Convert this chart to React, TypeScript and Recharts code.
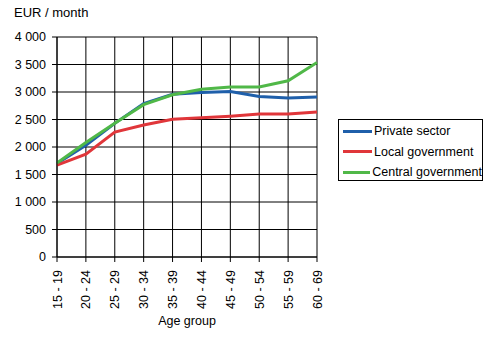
import React from "react";
import { LineChart, Line, XAxis, YAxis, CartesianGrid } from "recharts";

const ageGroups = ["15 - 19", "20 - 24", "25 - 29", "30 - 34", "35 - 39", "40 - 44", "45 - 49", "50 - 54", "55 - 59", "60 - 69"];
const privateSector = [1700, 2030, 2430, 2790, 2960, 2990, 3010, 2920, 2890, 2910];
const localGovernment = [1670, 1870, 2270, 2400, 2505, 2530, 2560, 2600, 2600, 2635];
const centralGovernment = [1710, 2080, 2430, 2770, 2950, 3050, 3090, 3090, 3205, 3535];
const yTicks = [0, 500, 1000, 1500, 2000, 2500, 3000, 3500, 4000];

const series = [
  { key: "private", name: "Private sector", color: "#1F5FAA" },
  { key: "local", name: "Local government", color: "#E0363A" },
  { key: "central", name: "Central government", color: "#50B848" },
];

const data = ageGroups.map((g, i) => ({
  group: g,
  private: privateSector[i],
  local: localGovernment[i],
  central: centralGovernment[i],
}));

const FONT = "'Liberation Sans', Arial, sans-serif";

const fmt = (v: number) => String(v).replace(/\B(?=(\d{3})+(?!\d))/g, " ");

function XTick(props: any) {
  const { x, y, payload } = props;
  return (
    <text
      transform={`translate(${x},${y + 6}) rotate(-90)`}
      textAnchor="end"
      dy={4.5}
      fontSize={12.5}
      fontFamily={FONT}
      fill="#000"
    >
      {payload.value}
    </text>
  );
}

function LegendBox() {
  return (
    <div
      style={{
        position: "absolute",
        left: 338,
        top: 119,
        border: "1px solid #000",
        width: 145,
        height: 62,
        boxSizing: "border-box",
        fontFamily: FONT,
        fontSize: 12.5,
        color: "#000",
        background: "#fff",
        whiteSpace: "nowrap",
        paddingTop: 1,
      }}
    >
      {series.map((s) => (
        <div key={s.key} style={{ display: "flex", alignItems: "center", height: 20.5 }}>
          <div style={{ width: 29, height: 3, background: s.color, marginLeft: 4, marginRight: 2 }} />
          <span>{s.name}</span>
        </div>
      ))}
    </div>
  );
}

export default function App() {
  return (
    <div style={{ position: "absolute", left: 0, top: 0, width: 497, height: 359, background: "#fff" }}>
      <div style={{ position: "absolute", left: 14, top: 5, fontFamily: FONT, fontSize: 13, color: "#000" }}>
        EUR / month
      </div>
      <LineChart width={497} height={359} data={data} margin={{ top: 37, right: 180, left: 0, bottom: 30 }}>
        <CartesianGrid stroke="#000" strokeWidth={1} horizontal vertical />
        <XAxis
          dataKey="group"
          interval={0}
          height={72}
          tick={<XTick />}
          tickSize={5}
          stroke="#000"
          axisLine={{ stroke: "#000" }}
          tickLine={{ stroke: "#000" }}
          label={{ value: "Age group", position: "insideBottom", offset: 4, fontSize: 12.5, fontFamily: FONT, fill: "#000" }}
        />
        <YAxis
          width={57}
          domain={[0, 4000]}
          ticks={yTicks}
          interval={0}
          tickFormatter={fmt}
          tickSize={5}
          tickMargin={6}
          stroke="#000"
          tick={{ fill: "#000", fontSize: 12.5, fontFamily: FONT }}
        />
        {series.map((s) => (
          <Line
            key={s.key}
            dataKey={s.key}
            name={s.name}
            stroke={s.color}
            strokeWidth={3}
            dot={false}
            type="linear"
            isAnimationActive={false}
          />
        ))}
      </LineChart>
      <LegendBox />
    </div>
  );
}
